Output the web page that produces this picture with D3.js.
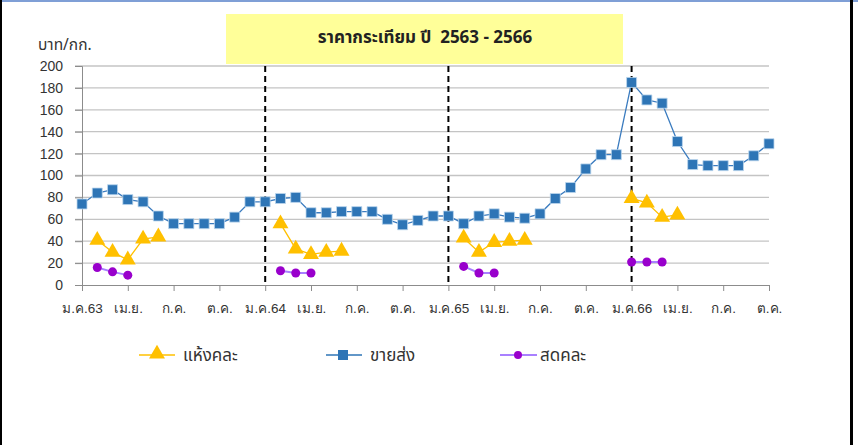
<!DOCTYPE html>
<html><head><meta charset="utf-8">
<script src="https://cdn.jsdelivr.net/npm/d3@7"></script>
<style>
html,body{margin:0;padding:0;background:#fff;}
svg{display:block;font-family:Tahoma,"Noto Sans Thai","Noto Sans",sans-serif;}
</style></head><body>
<svg id="c" width="858" height="445"></svg>
<script>
const months = d3.range(46); // Jan 2563 .. Oct 2566
const tickLabels = ["ม.ค.63","เม.ย.","ก.ค.","ต.ค.","ม.ค.64","เม.ย.","ก.ค.","ต.ค.","ม.ค.65","เม.ย.","ก.ค.","ต.ค.","ม.ค.66","เม.ย.","ก.ค.","ต.ค."];
const yTicks = [0,20,40,60,80,100,120,140,160,180,200];
const yearStarts = [12,24,36];
const wholesale = [74,84,87,78,76,63,56,56,56,56,62,76,76,79,80,66,66,67,67,67,60,55,59,63,63,56,63,65,62,61,65,79,89,106,119,119,185,169,166,131,110,109,109,109,118,129];
const dried = [
  [1,41],[2,30],[3,23],[4,42],[5,44],
  [13,56],[14,33],[15,28],[16,30],[17,31],
  [25,43],[26,30],[27,39],[28,40],[29,41],
  [36,79],[37,75],[38,62],[39,64]
];
const fresh = [
  [1,16],[2,12],[3,9],
  [13,13],[14,11],[15,11],
  [25,17],[26,11],[27,11],
  [36,21],[37,21],[38,21]
];
const legendNames = ["แห้งคละ","ขายส่ง","สดคละ"];
const title = "ราคากระเทียม ปี  2563 - 2566";
const unit = "บาท/กก.";

const svg = d3.select("#c");
const x = d3.scaleLinear().domain([0,45]).range([82,769]);
const y = d3.scaleLinear().domain([0,200]).range([285,66]);

// frame
svg.append("rect").attr("x",0).attr("y",0).attr("width",858).attr("height",2).attr("fill","#7f9fd6");
svg.append("rect").attr("x",0).attr("y",0).attr("width",2).attr("height",445).attr("fill","#000");
svg.append("rect").attr("x",850).attr("y",0).attr("width",3).attr("height",445).attr("fill","#000");

// grid
svg.append("g").selectAll("line").data(yTicks.filter(d=>d>0)).join("line")
  .attr("x1",75).attr("x2",769).attr("y1",d=>y(d)).attr("y2",d=>y(d))
  .attr("stroke","#c4c4c4").attr("stroke-width",1.3);

// y axis
const ya = svg.append("g").attr("transform","translate(82,0)")
  .call(d3.axisLeft(y).tickValues(yTicks).tickSize(7).tickPadding(12));
ya.select(".domain").attr("stroke","#8c8c8c");
ya.selectAll(".tick line").attr("stroke","#8c8c8c");
ya.selectAll("text").attr("font-size",14).attr("fill","#333");

// x axis
const xa = svg.append("g").attr("transform","translate(0,285)")
  .call(d3.axisBottom(x).tickValues(d3.range(0,46,3)).tickSize(6).tickPadding(12).tickFormat((d,i)=>tickLabels[i]));
xa.select(".domain").attr("stroke","#8c8c8c");
xa.selectAll(".tick line").attr("stroke","#8c8c8c");
xa.selectAll("text").attr("font-size",13.5).attr("fill","#333");

// dashed year separators
svg.append("g").selectAll("line").data(yearStarts).join("line")
  .attr("x1",d=>x(d)).attr("x2",d=>x(d)).attr("y1",66).attr("y2",285)
  .attr("stroke","#000").attr("stroke-width",2).attr("stroke-dasharray","6,4");

// title box
svg.append("rect").attr("x",226).attr("y",14).attr("width",397).attr("height",50).attr("fill","#ffff99");
svg.append("text").attr("x",425).attr("y",43).attr("text-anchor","middle")
  .style("white-space","pre").attr("xml:space","preserve")
  .attr("font-size",17).attr("font-weight","bold").attr("fill","#222").text(title);
svg.append("text").attr("x",38).attr("y",50).attr("font-size",15.5).attr("fill","#333").text(unit);

// series
function segments(pairs){
  const segs=[];let cur=[];
  pairs.forEach((p,i)=>{ if(i>0 && p[0]!==pairs[i-1][0]+1){segs.push(cur);cur=[];} cur.push(p);});
  if(cur.length)segs.push(cur);return segs;
}
const line = d3.line().x(d=>x(d[0])).y(d=>y(d[1]));
const tri = d3.symbol().type(d3.symbolTriangle).size(110);
const sq = d3.symbol().type(d3.symbolSquare).size(100);

// wholesale
const wp = wholesale.map((v,i)=>[months[i],v]);
svg.append("path").attr("d",line(wp)).attr("fill","none").attr("stroke","#3a7bbf").attr("stroke-width",1.3);
svg.append("g").selectAll("path").data(wp).join("path")
  .attr("transform",d=>`translate(${x(d[0])},${y(d[1])})`).attr("d",sq)
  .attr("fill","#2e75b6").attr("stroke","#bdd7ee").attr("stroke-width",0.8);

// dried
segments(dried).forEach(s=>{
  svg.append("path").attr("d",line(s)).attr("fill","none").attr("stroke","#ffc000").attr("stroke-width",1.3);
});
svg.append("g").selectAll("path").data(dried).join("path")
  .attr("transform",d=>`translate(${x(d[0])},${y(d[1])})`).attr("d",tri).attr("fill","#ffc000");

// fresh
segments(fresh).forEach(s=>{
  svg.append("path").attr("d",line(s)).attr("fill","none").attr("stroke","#a980ff").attr("stroke-width",2);
});
svg.append("g").selectAll("circle").data(fresh).join("circle")
  .attr("cx",d=>x(d[0])).attr("cy",d=>y(d[1])).attr("r",4.5).attr("fill","#9900cc");

// legend
const lg = svg.append("g");
const ly = 355;
const items = [
  {x1:139,x2:175,mx:157,tx:183,color:"#ffc000",kind:"tri"},
  {x1:326,x2:362,mx:343,tx:370,color:"#2e75b6",kind:"sq"},
  {x1:500,x2:537,mx:518,tx:540,color:"#a980ff",kind:"circ"}
];
items.forEach((it,i)=>{
  lg.append("line").attr("x1",it.x1).attr("x2",it.x2).attr("y1",ly).attr("y2",ly)
    .attr("stroke",it.color).attr("stroke-width",i===2?2:1.3);
  if(it.kind==="tri") lg.append("path").attr("transform",`translate(${it.mx},${ly-1})`).attr("d",tri).attr("fill","#ffc000");
  if(it.kind==="sq") lg.append("path").attr("transform",`translate(${it.mx},${ly})`).attr("d",sq).attr("fill","#2e75b6");
  if(it.kind==="circ") lg.append("circle").attr("cx",it.mx).attr("cy",ly).attr("r",4).attr("fill","#9900cc");
  lg.append("text").attr("x",it.tx).attr("y",ly+6).attr("font-size",17).attr("fill","#333").text(legendNames[i]);
});
</script>
</body></html>
